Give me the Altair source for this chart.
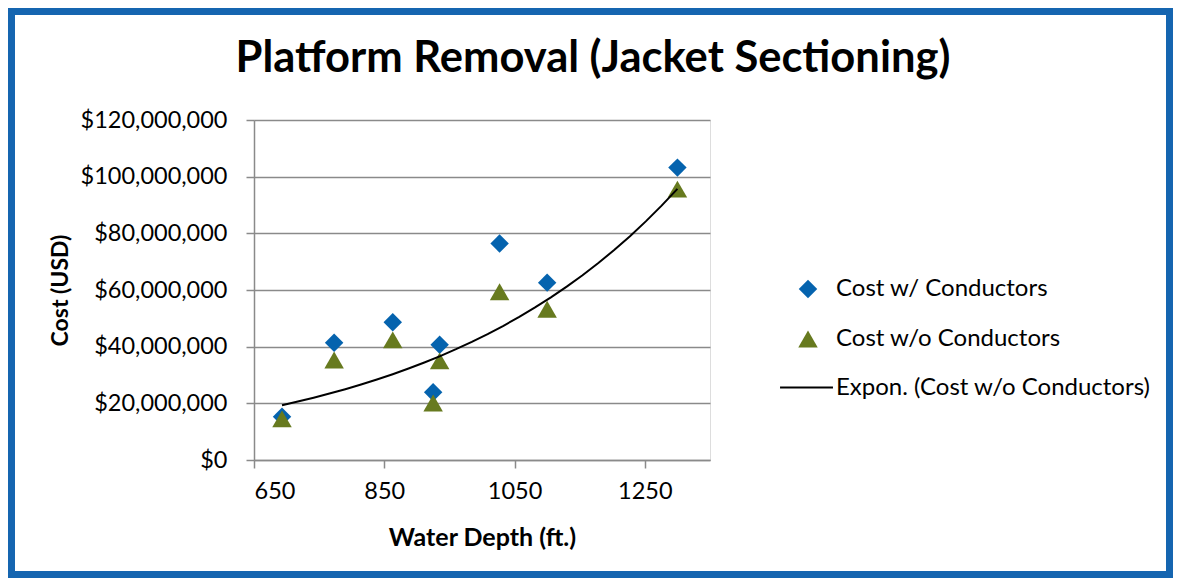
import altair as alt
import pandas as pd

# ---- data ----
depth_ft = [693, 773, 863, 925, 935, 1027, 1100, 1300]
cost_with = [15.3e6, 41.4e6, 48.6e6, 23.9e6, 40.7e6, 76.4e6, 62.6e6, 103.2e6]
cost_without = [14.5e6, 35.3e6, 42.4e6, 20.1e6, 35.0e6, 59.4e6, 53.2e6, 95.6e6]
series_names = ["Cost w/ Conductors", "Cost w/o Conductors"]
trend_name = "Expon. (Cost w/o Conductors)"
x_ticks = [650, 850, 1050, 1250]
y_ticks = [0, 20e6, 40e6, 60e6, 80e6, 100e6, 120e6]

rows = []
for d, c in zip(depth_ft, cost_with):
    rows.append({"depth": d, "cost": c, "series": series_names[0]})
for d, c in zip(depth_ft, cost_without):
    rows.append({"depth": d, "cost": c, "series": series_names[1]})
df = pd.DataFrame(rows)
df_wo = pd.DataFrame({"depth": depth_ft, "cost": cost_without})

FONT = "Lato"
GRID = "#8a8a8a"
BLUE = "#0563AE"
OLIVE = "#677A1F"
FRAME = "#1565B0"

W, H = 456, 340          # plot area
PAD_L, PAD_T = 246, 112
TOTAL_W, TOTAL_H = 1165, 570

x_enc = alt.X("depth:Q",
              scale=alt.Scale(domain=[650, 1350], nice=False, zero=False),
              axis=alt.Axis(values=x_ticks, format="d", title="Water Depth (ft.)", grid=False,
                            labelFontSize=23.5, titleFontSize=25, titleFontWeight="bold",
                            tickSize=8, labelPadding=11, titlePadding=23,
                            domainColor=GRID, tickColor=GRID, domainWidth=1.5, tickWidth=1.5,
                            labelColor="black", titleColor="black",
                            labelFont=FONT, titleFont=FONT))
y_enc = alt.Y("cost:Q",
              scale=alt.Scale(domain=[0, 120e6], nice=False),
              axis=alt.Axis(values=y_ticks, format="$,.0f", title="Cost (USD)",
                            grid=True, gridColor=GRID, gridWidth=1.5,
                            labelFontSize=23.5, titleFontSize=23, titleFontWeight="bold",
                            tickSize=8, labelPadding=19, titlePadding=8,
                            domainColor=GRID, tickColor=GRID, domainWidth=1.5, tickWidth=1.5,
                            labelColor="black", titleColor="black",
                            labelFont=FONT, titleFont=FONT))

color_scale = alt.Scale(domain=series_names, range=[BLUE, OLIVE])
shape_scale = alt.Scale(domain=series_names, range=["diamond", "triangle-up"])
size_scale = alt.Scale(type="ordinal", domain=series_names, range=[340, 380])
point_legend = alt.Legend(title=None, orient="none", legendX=542, legendY=157,
                          labelFontSize=24, labelFont=FONT, labelColor="black", labelLimit=500,
                          labelOffset=16, rowPadding=25, padding=0, symbolOpacity=1)
line_legend = alt.Legend(title=None, orient="none", legendX=525, legendY=240,
                         labelFontSize=24, labelFont=FONT, labelColor="black", labelLimit=500,
                         symbolType="stroke", symbolSize=2800, symbolStrokeWidth=2,
                         labelOffset=2, padding=0)

frame = alt.Chart(alt.Data(values=[{"k": 1}])).mark_rect(
    fillOpacity=0, stroke=FRAME, strokeWidth=7
).encode(
    x=alt.value(-PAD_L + 3.5), x2=alt.value(TOTAL_W - PAD_L - 3.5),
    y=alt.value(-PAD_T + 3.5), y2=alt.value(TOTAL_H - PAD_T - 3.5),
)

points = alt.Chart(df).mark_point(filled=True, opacity=1, strokeWidth=0).encode(
    x=x_enc, y=y_enc,
    fill=alt.Fill("series:N", scale=color_scale, legend=point_legend),
    shape=alt.Shape("series:N", scale=shape_scale, legend=point_legend),
    size=alt.Size("series:N", scale=size_scale, legend=point_legend),
)

trend = alt.Chart(df_wo).transform_calculate(
    lcost="log(datum.cost)"
).transform_regression(
    "depth", "lcost", method="poly", order=1
).transform_calculate(
    cost="exp(datum.lcost)", trend=f"'{trend_name}'"
).mark_line(strokeWidth=2).encode(
    x=alt.X("depth:Q"), y=alt.Y("cost:Q"),
    stroke=alt.Stroke("trend:N", scale=alt.Scale(domain=[trend_name], range=["black"]),
                      legend=line_legend),
)

chart = alt.layer(frame, points, trend).properties(
    width=W, height=H,
    title=alt.Title("Platform Removal (Jacket Sectioning)", font=FONT, fontSize=43.5,
                    fontWeight="bold", color="black", anchor="middle", frame="group",
                    baseline="alphabetic", dx=111, offset=-107),
    autosize=alt.AutoSizeParams(type="none"),
    padding={"left": PAD_L, "top": PAD_T, "right": TOTAL_W - PAD_L - W,
             "bottom": TOTAL_H - PAD_T - H},
).configure_view(stroke=None).configure(background="white")

chart.save("out.html", embed_options={"renderer": "svg", "actions": False})
